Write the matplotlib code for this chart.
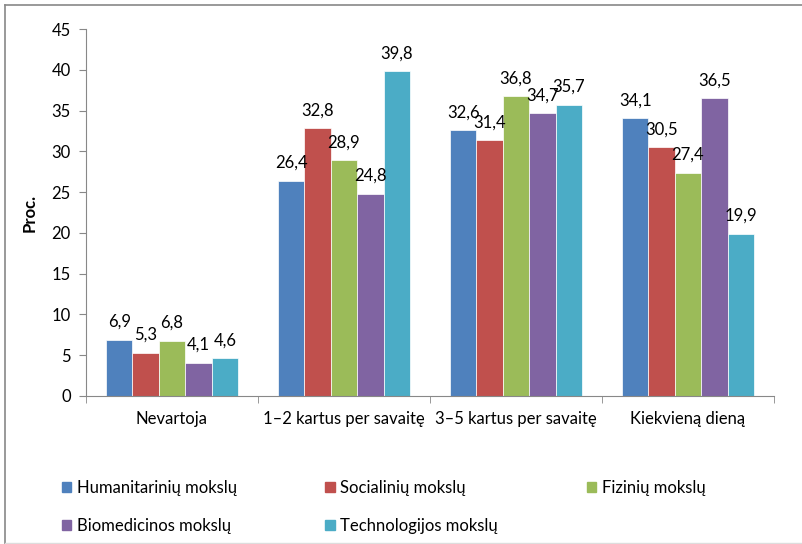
import numpy as np
import matplotlib.pyplot as plt
from matplotlib.lines import Line2D
from matplotlib.patches import Patch

plt.rcParams["font.family"] = ["Lato", "DejaVu Sans"]

categories = ["Nevartoja", "1–2 kartus per savaitę", "3–5 kartus per savaitę", "Kiekvieną dieną"]
series_names = ["Humanitarinių mokslų", "Socialinių mokslų", "Fizinių mokslų",
                "Biomedicinos mokslų", "Technologijos mokslų"]
humanitariniu = [6.9, 26.4, 32.6, 34.1]
socialiniu = [5.3, 32.8, 31.4, 30.5]
fiziniu = [6.8, 28.9, 36.8, 27.4]
biomedicinos = [4.1, 24.8, 34.7, 36.5]
technologijos = [4.6, 39.8, 35.7, 19.9]
colors = ["#4F81BD", "#C0504D", "#9BBB59", "#8064A2", "#4BACC6"]

series = [humanitariniu, socialiniu, fiziniu, biomedicinos, technologijos]
FS = 12

fig = plt.figure(figsize=(8.03, 5.44), dpi=100)
ax = fig.add_axes([86 / 803, 148 / 544, 688 / 803, 367 / 544])

x = np.arange(len(categories))
width = 0.1535
for i, (vals, c) in enumerate(zip(series, colors)):
    pos = x + (i - 2) * width
    ax.bar(pos, vals, width, color=c, edgecolor="white", linewidth=0.5, label=series_names[i])
    for px, v in zip(pos, vals):
        ax.annotate(f"{v:.1f}".replace(".", ","), (px, v), xytext=(0, 7),
                    textcoords="offset points", ha="center", va="bottom", fontsize=FS)

ax.set_xlim(-0.5, len(categories) - 0.5)
ax.set_ylim(0, 45)
ax.set_yticks(range(0, 50, 5))
ax.set_xticks(x)
ax.set_xticklabels(categories)
ax.set_xticks(np.arange(-0.5, len(categories), 1), minor=True)
ax.tick_params(axis="x", which="major", length=0, pad=11, labelsize=FS)
ax.tick_params(axis="x", which="minor", length=5, color="#888888")
ax.tick_params(axis="y", length=5, color="#888888", labelsize=FS, pad=6)
ax.set_ylabel("Proc.", fontsize=FS, fontweight="bold", labelpad=10)
for s in ["top", "right"]:
    ax.spines[s].set_visible(False)
for s in ["left", "bottom"]:
    ax.spines[s].set_color("#888888")

# legend in row order (matplotlib fills columns first)
order = [0, 3, 1, 4, 2]
handles = [Patch(color=colors[i]) for i in order]
labels = [series_names[i] for i in order]
fig.legend(handles, labels, ncol=3, loc="upper left", bbox_to_anchor=(62 / 803, 1 - 480 / 544),
           frameon=False, fontsize=FS, handlelength=0.55, handleheight=0.55,
           handletextpad=0.35, columnspacing=5.3, labelspacing=1.32,
           borderaxespad=0, borderpad=0)

# outer frame
fig.add_artist(Line2D([5 / 803, 5 / 803], [0, 1 - 5 / 544], color="#888888", lw=1.2))
fig.add_artist(Line2D([5 / 803, 1], [1 - 5 / 544, 1 - 5 / 544], color="#888888", lw=1.2))
fig.add_artist(Line2D([5 / 803, 1], [1.5 / 544, 1.5 / 544], color="#dddddd", lw=1))

fig.savefig("out.png", dpi=100)
